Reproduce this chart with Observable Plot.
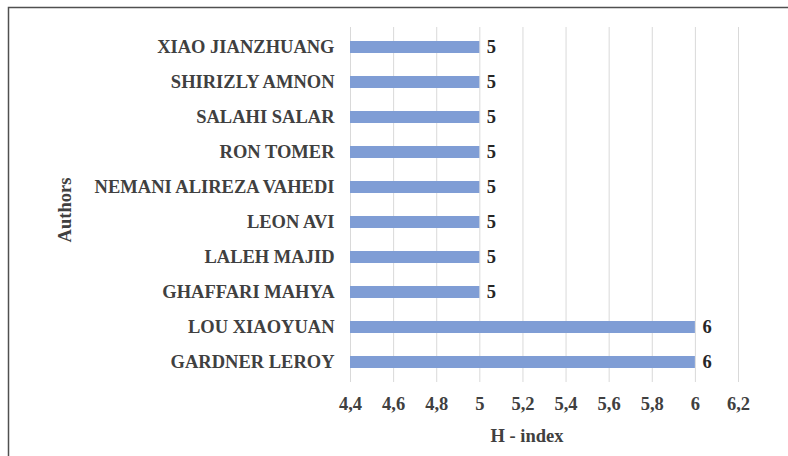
<!DOCTYPE html>
<html>
<head>
<meta charset="utf-8">
<script src="https://cdn.jsdelivr.net/npm/d3@7"></script>
<script src="https://cdn.jsdelivr.net/npm/@observablehq/plot@0.6"></script>
<style>
  html, body { margin: 0; padding: 0; background: #fff; }
  #chart { width: 788px; height: 456px; }
</style>
</head>
<body>
<div id="chart"></div>
<script>
const authors = [
  "XIAO JIANZHUANG",
  "SHIRIZLY AMNON",
  "SALAHI SALAR",
  "RON TOMER",
  "NEMANI ALIREZA VAHEDI",
  "LEON AVI",
  "LALEH MAJID",
  "GHAFFARI MAHYA",
  "LOU XIAOYUAN",
  "GARDNER LEROY"
];
const hIndex = [5, 5, 5, 5, 5, 5, 5, 5, 6, 6];
const xTicks = [4.4, 4.6, 4.8, 5.0, 5.2, 5.4, 5.6, 5.8, 6.0, 6.2];
const xLabel = "H - index";
const yLabel = "Authors";

const data = authors.map((a, i) => ({author: a, h: hIndex[i]}));
const fmt = v => String(+v.toFixed(1)).replace(".", ",");
const FONT = "'Liberation Serif', 'Times New Roman', serif";
const FS = 18.5;

const W = 788, H = 456;
const plot = Plot.plot({
  width: W,
  height: H,
  marginLeft: 350,
  marginRight: 50,
  marginTop: 27,
  marginBottom: 74,
  style: {background: "#fff"},
  x: {domain: [xTicks[0], xTicks[xTicks.length - 1]], ticks: xTicks, tickFormat: fmt, label: null},
  y: {domain: authors, paddingInner: 0.65, paddingOuter: 0.325, label: null},
  marks: [
    Plot.gridX(xTicks, {stroke: "#d9d9d9", strokeOpacity: 1, strokeWidth: 1}),
    Plot.barX(data, {y: "author", x1: xTicks[0], x2: "h", fill: "#7f9dd5"}),
    Plot.text(data, {y: "author", x: "h", text: d => String(d.h), dx: 7, textAnchor: "start", fill: "#262626"}),
    Plot.axisX({ticks: xTicks, tickFormat: fmt, tickSize: 0, tickPadding: 14, label: null, fill: "#404040"}),
    Plot.axisY({tickSize: 0, tickPadding: 16, label: null, fill: "#404040"})
  ]
});
document.getElementById("chart").appendChild(plot);

const svg = d3.select(plot);
// frame lines (top and left)
svg.append("path")
  .attr("d", `M8.5,${H} L8.5,7.5 L${W},7.5`)
  .attr("fill", "none")
  .attr("stroke", "#505050")
  .attr("stroke-width", 1.5);
// axis titles
svg.append("text")
  .attr("x", 527).attr("y", 438)
  .attr("text-anchor", "middle").attr("dominant-baseline", "middle")
  .attr("fill", "#404040")
  .text(xLabel);
svg.append("text")
  .attr("transform", "translate(67,210) rotate(-90)")
  .attr("text-anchor", "middle").attr("dominant-baseline", "middle")
  .attr("fill", "#404040")
  .text(yLabel);
// serif bold typography everywhere
svg.attr("font-family", FONT).attr("font-size", FS).attr("font-weight", "bold");
svg.selectAll("g, text")
  .attr("font-family", FONT)
  .attr("font-size", FS)
  .attr("font-weight", "bold")
  .style("font-family", FONT)
  .style("font-size", FS + "px")
  .style("font-weight", "bold");
</script>
</body>
</html>
